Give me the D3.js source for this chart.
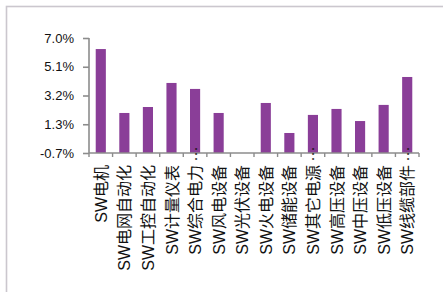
<!DOCTYPE html>
<html>
<head>
<meta charset="utf-8">
<title>SW sub-industries</title>
<script src="https://d3js.org/d3.v7.min.js"></script>
<style>
  body { margin: 0; background: #fff; }
  #chart { display: block; }
  .lbl { font-family: "Liberation Sans", Arial, "Noto Sans CJK SC", sans-serif; fill: #111; }
</style>
</head>
<body>
<svg id="chart"></svg>
<script>
// categories (x axis), truncated ones get an ellipsis
const categories = ["SW电机", "SW电网自动化", "SW工控自动化", "SW计量仪表", "SW综合电力", "SW风电设备", "SW光伏设备",
  "SW火电设备", "SW储能设备", "SW其它电源", "SW高压设备", "SW中压设备", "SW低压设备", "SW线缆部件"];
const truncated = [false, false, false, false, true, false, false, false, false, true, false, false, false, true];
// values in %
const values = [6.26, 1.98, 2.38, 3.99, 3.59, 1.98, -0.7, 2.65, 0.64, 1.85, 2.25, 1.44, 2.52, 4.39];
// y ticks as printed in the chart
const tickValues = [-0.7, 1.225, 3.15, 5.075, 7.0];
const tickLabels = ["-0.7%", "1.3%", "3.2%", "5.1%", "7.0%"];

const width = 443, height = 292;
const svg = d3.select("#chart").attr("width", width).attr("height", height);

// outer frame
svg.append("rect")
  .attr("x", 6.5).attr("y", 6.5)
  .attr("width", 460).attr("height", 300)
  .attr("fill", "none")
  .attr("stroke", "#cbc7ce")
  .attr("stroke-width", 1.6);

const x = d3.scaleBand().domain(categories).range([89, 419]).padding(0);
const y = d3.scaleLinear().domain([-0.7, 7.0]).range([153, 38]);
const barW = x.step() * 0.43;
const axisColor = "#8c8c8c";

// bars
svg.append("g").selectAll("rect")
  .data(values)
  .enter().append("rect")
  .attr("x", (d, i) => x(categories[i]) + x.step() / 2 - barW / 2)
  .attr("y", d => y(Math.max(d, -0.7)))
  .attr("width", barW)
  .attr("height", d => y(-0.7) - y(Math.max(d, -0.7)))
  .attr("fill", "#8a3e98");

// y axis
const yAxis = svg.append("g")
  .attr("transform", "translate(89,0)")
  .call(d3.axisLeft(y).tickValues(tickValues).tickSize(6).tickPadding(3)
    .tickFormat((d, i) => tickLabels[i]));
yAxis.select(".domain").attr("stroke", axisColor).attr("stroke-width", 1.6).attr("d", "M0,38V153");
yAxis.selectAll(".tick line").attr("stroke", axisColor).attr("stroke-width", 1.6);
yAxis.selectAll(".tick text")
  .attr("class", "lbl")
  .attr("font-size", 13)
  .attr("x", -15)
  .attr("fill", "#111");

// x axis with ticks on band boundaries
const xAxis = svg.append("g").attr("transform", "translate(0,153)");
xAxis.append("line")
  .attr("x1", 89).attr("x2", 419)
  .attr("stroke", axisColor).attr("stroke-width", 1.6);
xAxis.selectAll(".xt")
  .data(categories.concat(["end"]))
  .enter().append("line")
  .attr("class", "xt")
  .attr("x1", (d, i) => 89 + i * x.step())
  .attr("x2", (d, i) => 89 + i * x.step())
  .attr("y1", 0).attr("y2", 4)
  .attr("stroke", axisColor).attr("stroke-width", 1.4);

// rotated category labels, top aligned just under the axis
const labels = svg.append("g");
categories.forEach(function (c, i) {
  const cx = x(c) + x.step() / 2;
  labels.append("text")
    .attr("class", "lbl")
    .attr("font-size", 16)
    .attr("text-anchor", "end")
    .attr("transform", "translate(" + (cx + 6) + ",165) rotate(-90)")
    .text(c);
  if (truncated[i]) {
    labels.append("text")
      .attr("class", "lbl")
      .attr("font-size", 16)
      .attr("text-anchor", "start")
      .attr("transform", "translate(" + (cx + 1.5) + ",162) rotate(-90)")
      .text("…");
  }
});
</script>
</body>
</html>
